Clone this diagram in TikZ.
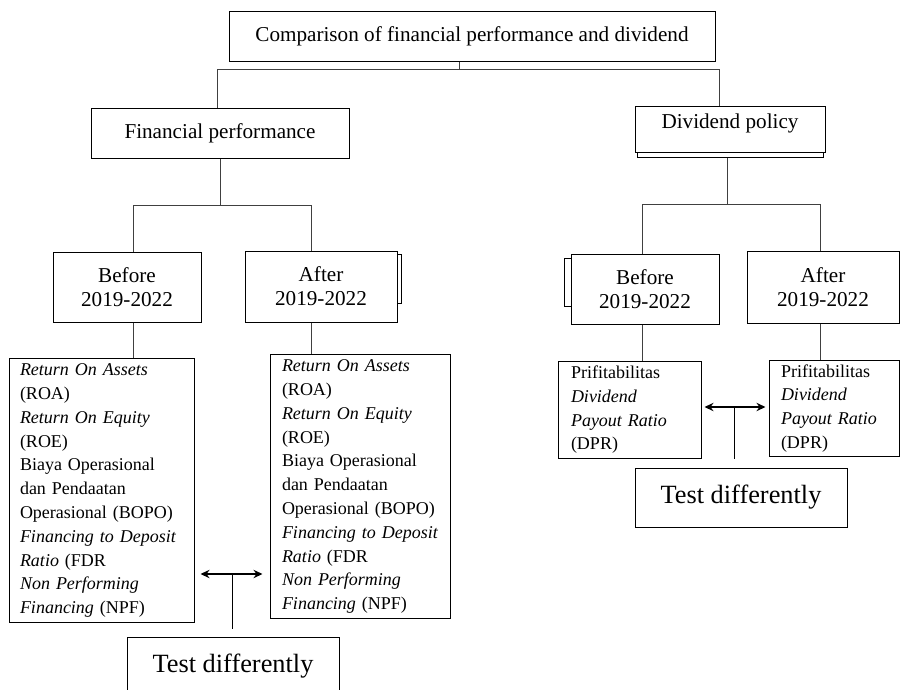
\documentclass[tikz,border=0pt]{standalone}
\usepackage{fontspec}
\setmainfont{Liberation Serif}
\usetikzlibrary{arrows,arrows.meta,positioning,calc}

\newcommand{\hdrsize}{\fontsize{12.7}{14.4}\selectfont}
\newcommand{\lstsize}{\fontsize{10.8}{14.28}\selectfont}
\newcommand{\tstsize}{\fontsize{15.8}{19}\selectfont}
\newcommand{\rows}[1]{\begin{tabular}{@{}l@{}}#1\end{tabular}}

\begin{document}
\begin{tikzpicture} [x = 0.6pt, y = -0.6pt, > = {Stealth[length=5.4pt, width=5pt]}, line width = 0.6pt]
            % Estilos
            \tikzstyle{boxc}=[rectangle, draw, inner sep=0pt]
            \tikzstyle{headbox}=[boxc, align=center, font=\hdrsize]
            \tikzstyle{listbox}=[boxc, align=left, font=\lstsize]
            \tikzstyle{testbox}=[boxc, font=\tstsize]
            \tikzstyle{linkline}=[draw=black!75]
            \tikzstyle{twoway}=[<->, line width=1.2pt]

            \useasboundingbox (0,0) rectangle (901,690);

            % Caixas de topo
            \node[headbox, minimum width=291.6pt, minimum height=30pt] (title) at (472,36) {Comparison of financial performance and dividend};
            \node[headbox, minimum width=154.8pt, minimum height=30pt] (fin) at (220,133) {Financial performance};
            \node[headbox, minimum width=114pt, minimum height=27.6pt, text depth=10pt] (div) at (730,129) {Dividend policy};

            % Antes / depois
            \node[headbox, minimum width=88.8pt, minimum height=42pt] (fb) at (127,287) {Before\\2019-2022};
            \node[headbox, minimum width=91.2pt, minimum height=42.6pt] (fa) at (321,286.5) {After\\2019-2022};
            \node[headbox, minimum width=88.8pt, minimum height=42pt] (db) at (645,289) {Before\\2019-2022};
            \node[headbox, minimum width=91.2pt, minimum height=43.2pt] (da) at (823,287) {After\\2019-2022};

            % Indicadores
            \node[listbox, text width=97.8pt, inner xsep=6.6pt, minimum height=158.4pt] (fbx) at (101.5,490) {\rows{\textit{Return On Assets}\\(ROA)\\\textit{Return On Equity}\\(ROE)\\Biaya Operasional\\dan Pendaatan\\Operasional (BOPO)\\\textit{Financing to Deposit}\\\textit{Ratio} (FDR\\\textit{Non Performing}\\\textit{Financing} (NPF)}};
            \node[listbox, text width=93.6pt, inner xsep=7.2pt, minimum height=158.4pt] (fax) at (360,486) {\rows{\textit{Return On Assets}\\(ROA)\\\textit{Return On Equity}\\(ROE)\\Biaya Operasional\\dan Pendaatan\\Operasional (BOPO)\\\textit{Financing to Deposit}\\\textit{Ratio} (FDR\\\textit{Non Performing}\\\textit{Financing} (NPF)}};
            \node[listbox, text width=70.2pt, inner xsep=7.8pt, minimum height=58.2pt] (dbx) at (629.5,409.5) {\rows{Prifitabilitas\\\textit{Dividend}\\\textit{Payout Ratio}\\(DPR)}};
            \node[listbox, text width=63.6pt, inner xsep=7.2pt, minimum height=57.6pt] (dax) at (834,408) {\rows{Prifitabilitas\\\textit{Dividend}\\\textit{Payout Ratio}\\(DPR)}};

            % Testes
            \node[testbox, minimum width=127.2pt, minimum height=34.8pt] (ftest) at (233,666) {Test differently};
            \node[testbox, minimum width=127.2pt, minimum height=35.4pt] (dtest) at (741,497.5) {Test differently};

            % Sombras
            \draw ($(fa.north east)+(0,-2.4pt)$) -- ++(2.4pt,0) -- ++(0,-29.4pt) -- ++(-2.4pt,0);
            \draw ($(db.north west)+(0,-3pt)$) -- ++(-3.6pt,0) -- ++(0,-28.8pt) -- ++(3.6pt,0);
            \draw ($(div.south west)+(1.8pt,0)$) -- ++(0,-3pt) -| ($(div.south east)+(-1.2pt,0)$);

            % Ligacoes
            \coordinate (tb) at (459,69);
            \coordinate (tbl) at (217,69);
            \coordinate (tbr) at (719,69);
            \draw[linkline] (title.south -| tb) -- (tb);
            \draw[linkline] (fin.north -| tbl) -- (tbl) -- (tbr) -- (div.north -| tbr);

            \coordinate (fbl) at (133,205);
            \coordinate (fbr) at (311,205);
            \draw[linkline] (fin.south) -- (fin.south |- fbl);
            \draw[linkline] (fb.north -| fbl) -- (fbl) -- (fbr) -- (fa.north -| fbr);

            \coordinate (dbm) at (727,204);
            \coordinate (dbl) at (642,204);
            \coordinate (dbr) at (820,204);
            \draw[linkline] ($(div.south -| dbm)+(0,-3pt)$) -- (dbm);
            \draw[linkline] (db.north -| dbl) -- (dbl) -- (dbr) -- (da.north -| dbr);

            \draw[linkline] (fb.south -| fbl) -- (fbx.north -| fbl);
            \draw[linkline] (fa.south -| fbr) -- (fax.north -| fbr);
            \draw[linkline] (db.south -| dbl) -- (dbx.north -| dbl);
            \draw[linkline] (da.south -| dbr) -- (dax.north -| dbr);

            % Setas de teste
            \coordinate (fm) at (232,574);
            \draw[twoway, shorten < = 3.6pt, shorten > = 4.2pt] (fbx.east |- fm) -- (fax.west |- fm);
            \draw[shorten > = 4.8pt] (fm) -- (ftest.north -| fm);
            \coordinate (dm) at (734,407);
            \draw[twoway, shorten < = 1.8pt, shorten > = 1.8pt] (dbx.east |- dm) -- (dax.west |- dm);
            \draw[shorten > = 5.4pt] (dm) -- (dtest.north -| dm);
        \end{tikzpicture}
\end{document}
